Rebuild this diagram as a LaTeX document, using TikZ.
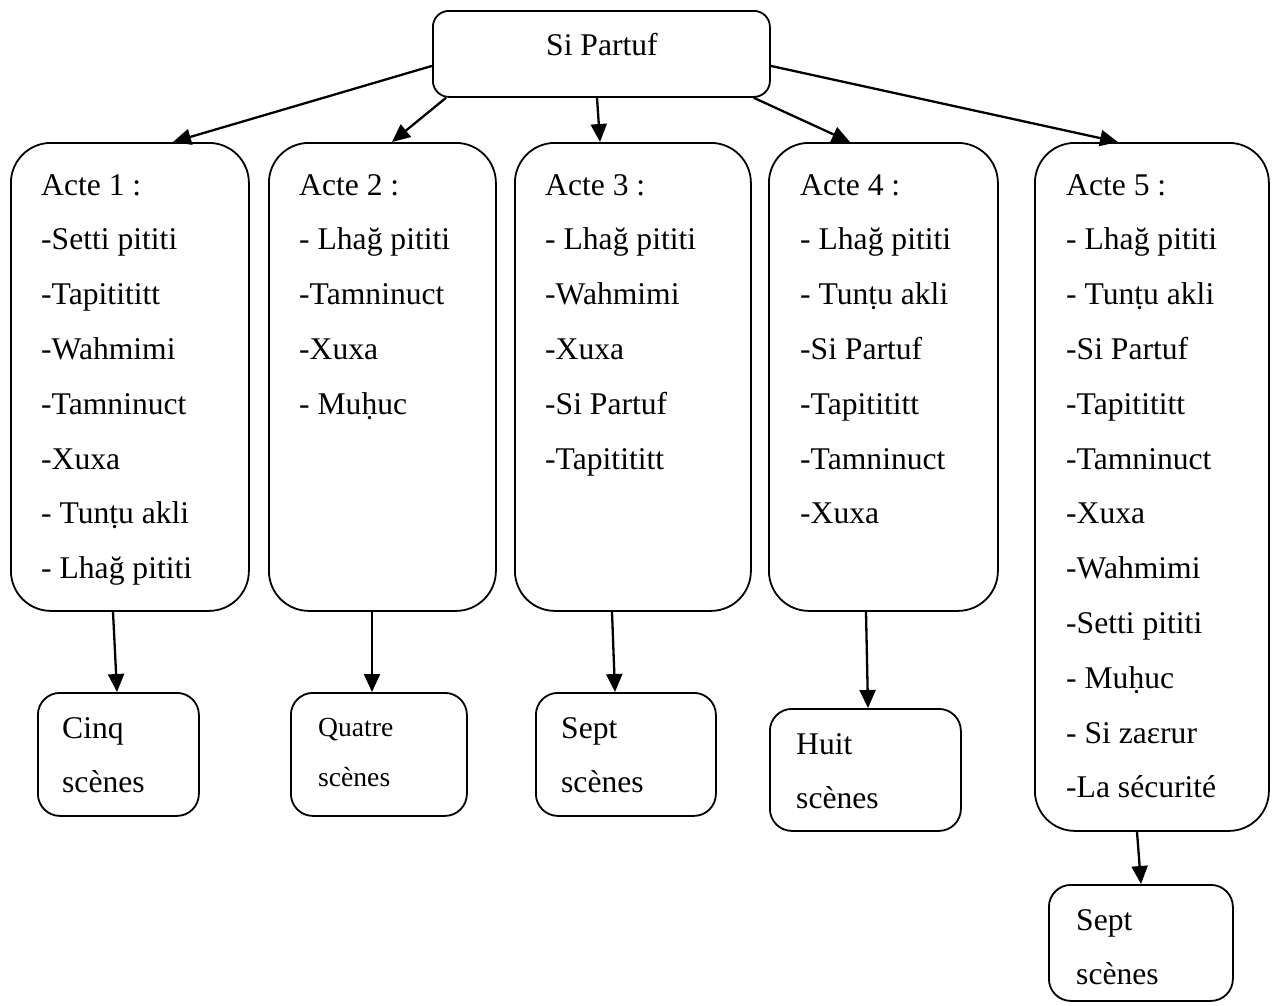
\documentclass[tikz,border=0pt]{standalone}
\usepackage{fontspec}
\setmainfont{Liberation Serif}
\usetikzlibrary{arrows.meta,calc}
\begin{document}
\begin{tikzpicture}[x=1pt,y=-1pt,
  box/.style={draw,line width=1.8pt,rounded corners=#1,inner sep=0pt,anchor=north west},
  box/.default=40pt,
  txt/.style={inner sep=0pt,align=left,anchor=north west,
    font=\fontsize{31.6}{54.8}\selectfont},
  small/.style={inner sep=0pt,align=left,anchor=north west,
    font=\fontsize{27.6}{50}\selectfont},
  arr/.style={line width=2.3pt,-{Triangle[length=18pt,width=16pt]}}]
\useasboundingbox (0,0) rectangle (1272,1005);

% root
\node[box=16pt,minimum width=337pt,minimum height=86pt] (top) at (432,10) {};
\node[inner sep=0pt,anchor=base west,font=\fontsize{31.6}{36}\selectfont] (toptxt)
  at ($(top.north west)+(114,45)$) {Si Partuf};

% acts
\node[box,minimum width=238pt,minimum height=468pt] (a1) at (10,142) {};
\node[box,minimum width=227pt,minimum height=468pt] (a2) at (268,142) {};
\node[box,minimum width=236pt,minimum height=468pt] (a3) at (514,142) {};
\node[box,minimum width=229pt,minimum height=468pt] (a4) at (768,142) {};
\node[box,minimum width=234pt,minimum height=688pt] (a5) at (1034,142) {};

\node[txt] (t1) at ($(a1.north west)+(31,32)$) {Acte 1 :\\-Setti pititi\\-Tapitititt\\-Wahmimi\\-Tamninuct\\-Xuxa\\- Tunṭu akli\\- Lhağ pititi};
\node[txt] (t2) at ($(a2.north west)+(31,32)$) {Acte 2 :\\- Lhağ pititi\\-Tamninuct\\-Xuxa\\- Muḥuc};
\node[txt] (t3) at ($(a3.north west)+(31,32)$) {Acte 3 :\\- Lhağ pititi\\-Wahmimi\\-Xuxa\\-Si Partuf\\-Tapitititt};
\node[txt] (t4) at ($(a4.north west)+(32,32)$) {Acte 4 :\\- Lhağ pititi\\- Tunṭu akli\\-Si Partuf\\-Tapitititt\\-Tamninuct\\-Xuxa};
\node[txt] (t5) at ($(a5.north west)+(32,32)$) {Acte 5 :\\- Lhağ pititi\\- Tunṭu akli\\-Si Partuf\\-Tapitititt\\-Tamninuct\\-Xuxa\\-Wahmimi\\-Setti pititi\\- Muḥuc\\- Si zaɛrur\\-La sécurité};

% scene counts
\node[box=22pt,minimum width=161pt,minimum height=123pt] (s1) at (37,692) {};
\node[box=22pt,minimum width=176pt,minimum height=123pt] (s2) at (290,692) {};
\node[box=22pt,minimum width=180pt,minimum height=123pt] (s3) at (535,692) {};
\node[box=22pt,minimum width=191pt,minimum height=122pt] (s4) at (769,708) {};
\node[box=22pt,minimum width=184pt,minimum height=116pt] (s5) at (1048,884) {};

\node[txt] (c1) at ($(s1.north west)+(25,25)$) {Cinq\\scènes};
\node[small] (c2) at ($(s2.north west)+(28,26)$) {Quatre\\scènes};
\node[txt] (c3) at ($(s3.north west)+(26,25)$) {Sept\\scènes};
\node[txt] (c4) at ($(s4.north west)+(27,25)$) {Huit\\scènes};
\node[txt] (c5) at ($(s5.north west)+(28,25)$) {Sept\\scènes};

% root to acts
\draw[arr] ($(top.west)+(0,12)$) -- ($(a1.north west)+(163,0)$);
\draw[arr] ($(top.south west)+(14,0)$) -- ($(a2.north west)+(124,0)$);
\draw[arr] ($(top.south west)+(165,0)$) -- ($(a3.north west)+(86,0)$);
\draw[arr] ($(top.south east)+(-17,0)$) -- ($(a4.north west)+(82,0)$);
\draw[arr] ($(top.east)+(0,12)$) -- ($(a5.north west)+(84,0)$);

% acts to scene counts
\draw[arr] ($(a1.south west)+(103,0)$) -- ($(s1.north west)+(80,0)$);
\draw[arr] ($(a2.south west)+(104,0)$) -- ($(s2.north west)+(82,0)$);
\draw[arr] ($(a3.south west)+(98,0)$) -- ($(s3.north west)+(80,0)$);
\draw[arr] ($(a4.south west)+(98,0)$) -- ($(s4.north west)+(99,0)$);
\draw[arr] ($(a5.south west)+(103,0)$) -- ($(s5.north west)+(93,0)$);
\end{tikzpicture}
\end{document}
